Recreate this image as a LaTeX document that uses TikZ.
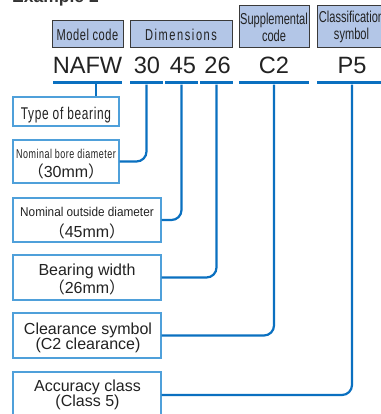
\documentclass[tikz,border=0pt]{standalone}
\usepackage{fontspec}
\setmainfont{Liberation Sans}
\newfontfamily\narrow[FakeStretch=0.7]{Liberation Sans}
\newfontfamily\semi[FakeStretch=0.92]{Liberation Sans}
\newfontfamily\cjk{Noto Sans CJK JP}
\definecolor{headfill}{HTML}{B3C6E7}
\definecolor{headline}{HTML}{3A3A3A}
\definecolor{linkc}{HTML}{0A70C0}
\definecolor{boxline}{HTML}{4FA0DA}
\definecolor{textc}{HTML}{222222}
\newcommand{\fs}[2]{\fontsize{#1}{#2}\selectfont}
\newcommand{\mm}[1]{{\cjk（}#1{\cjk）}}
\begin{document}
\begin{tikzpicture}[x=1pt,y=-1pt,
    head/.style={draw=headline,fill=headfill,line width=1pt,inner sep=0pt,
      align=center,text=textc,font=\narrow\fs{15.8}{17}},
    code/.style={anchor=base,inner sep=0pt,text=textc,font=\fs{23.6}{24}},
    bar/.style={fill=linkc,inner sep=0pt,minimum height=3pt},
    box/.style={draw=boxline,line width=1.2pt,fill=white,inner sep=0pt},
    lbl/.style={anchor=base,inner sep=0pt,text=textc,font=\fs{16}{16}},
    link/.style={draw=linkc,line width=2.2pt,rounded corners=10pt}]
  \useasboundingbox (0,0) rectangle (380,414);
  \node[anchor=base west,inner sep=0pt,text=black!80,
    font=\bfseries\fs{17.5}{20}] (title) at (12,3) {Example 2};
  % header boxes
  \node[head,minimum width=71pt,minimum height=27pt] (mcode) at (87.5,34.5)
    {\addfontfeature{LetterSpace=3.5}Model code};
  \node[head,minimum width=102pt,minimum height=27pt] (dims) at (181,34.5)
    {\addfontfeature{LetterSpace=10}Dimensions};
  \node[head,minimum width=70pt,minimum height=42pt] (supp) at (274,27)
    {Supplemental\\code};
  \node[head,minimum width=69pt,minimum height=42pt] (cls) at (351.5,27)
    {Classification\\symbol};
  % code
  \node[code] (nafw) at (87.5,74) {NAFW};
  \node[code] (c30) at (147,74) {30};
  \node[code] (c45) at (183,74) {45};
  \node[code] (c26) at (217.5,74) {26};
  \node[code] (cc2) at (274,74) {C2};
  \node[code] (cp5) at (352,74) {P5};
  \node[bar,minimum width=69pt] (bnafw) at (87.5,83) {};
  \node[bar,minimum width=33pt] (b30) at (146.5,83) {};
  \node[bar,minimum width=33pt] (b45) at (181.5,83) {};
  \node[bar,minimum width=33pt] (b26) at (216.5,83) {};
  \node[bar,minimum width=70pt] (bc2) at (274,83) {};
  \node[bar,minimum width=70pt] (bp5) at (352,83) {};
  % explanation boxes
  \node[box,minimum width=106pt,minimum height=29pt] (type) at (66,111.5) {};
  \node[lbl,font=\narrow\fs{17}{17}] (type1) at (66,119.3)
    {\addfontfeature{LetterSpace=4}Type of bearing};
  \node[box,minimum width=106pt,minimum height=43pt] (bore) at (66,161.5) {};
  \node[lbl,font=\narrow\fs{12.8}{13}] (bore1) at (66,158)
    {\addfontfeature{LetterSpace=4}Nominal bore diameter};
  \node[lbl] (bore2) at (66,177) {\mm{30mm}};
  \node[box,minimum width=148pt,minimum height=44pt] (outer) at (87,220) {};
  \node[lbl,font=\semi\fs{12.8}{13}] (outer1) at (87,216)
    {Nominal outside diameter};
  \node[lbl] (outer2) at (87,237) {\mm{45mm}};
  \node[box,minimum width=148pt,minimum height=45pt] (width) at (87,277.5) {};
  \node[lbl] (width1) at (87,275) {Bearing width};
  \node[lbl] (width2) at (87,293.3) {\mm{26mm}};
  \node[box,minimum width=148pt,minimum height=45pt] (clear) at (87,335.5) {};
  \node[lbl] (clear1) at (88,334) {Clearance symbol};
  \node[lbl] (clear2) at (88,349.5) {(C2 clearance)};
  \node[box,minimum width=148pt,minimum height=46pt] (acc) at (87,395) {};
  \node[lbl] (acc1) at (87.5,391.7) {Accuracy class};
  \node[lbl] (acc2) at (87.5,406.7) {(Class 5)};
  % connectors
  \coordinate (knafw) at (96,83);
  \draw[link] (knafw) -- (knafw |- type.north);
  \draw[link] (b30.south) |- (bore.east);
  \draw[link] (b45.south) |- (outer.east);
  \draw[link] (b26.south) |- (width.east);
  \draw[link] (bc2.south) |- (clear.east);
  \draw[link] (bp5.south) |- (acc.east);
\end{tikzpicture}
\end{document}
